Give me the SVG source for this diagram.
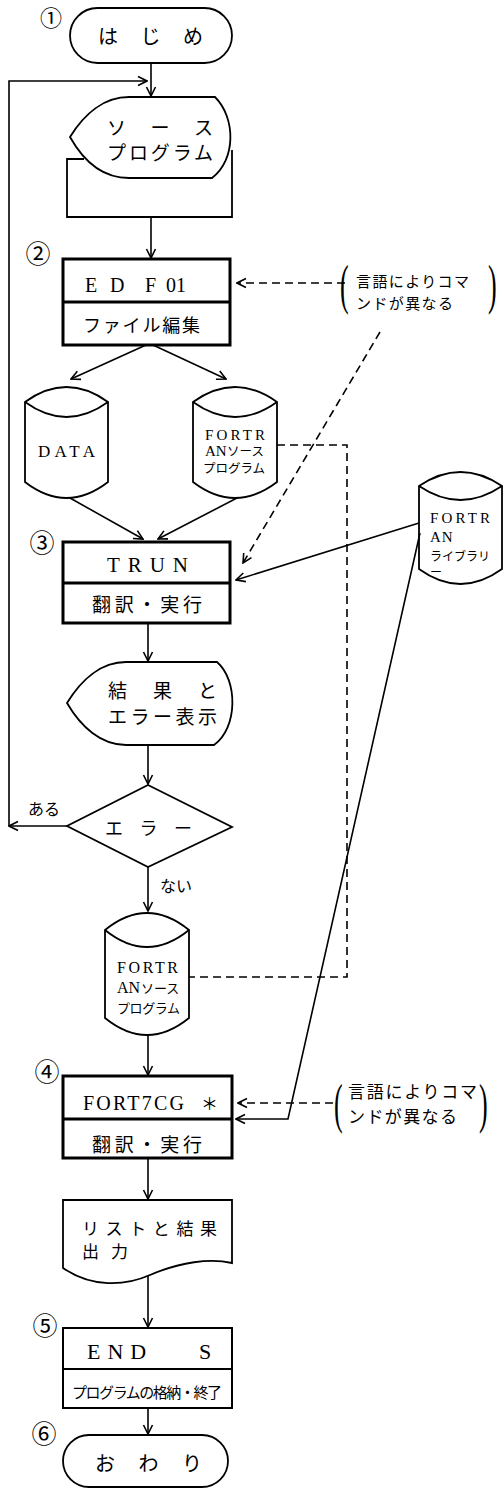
<svg xmlns="http://www.w3.org/2000/svg" width="504" height="1489" viewBox="0 0 504 1489">
<defs>
<style>
.ln{fill:none;stroke:#000;stroke-width:1.6}
.dash{fill:none;stroke:#000;stroke-width:1.6;stroke-dasharray:8 5}
.box{fill:#fff;stroke:#000;stroke-width:3}
.tbox{fill:#fff;stroke:#000;stroke-width:2}
.shp{fill:#fff;stroke:#000;stroke-width:1.8}
.div{stroke:#000;stroke-width:3}
.jp{font-family:'Noto Sans CJK JP',sans-serif;fill:#000}
.en{font-family:'Liberation Serif','Noto Sans CJK JP',serif;fill:#000}
.num{font-family:'Noto Sans CJK JP',sans-serif;fill:#000;text-anchor:middle;font-size:25px}
.par{font-family:'Liberation Serif',serif;fill:#000;font-size:26px}
</style>
<marker id="ah" viewBox="0 0 12 12" refX="11" refY="6" markerWidth="12" markerHeight="12" markerUnits="userSpaceOnUse" orient="auto">
<path d="M2,1.5 L11,6 L2,10.5" fill="none" stroke="#000" stroke-width="1.6"/>
</marker>
</defs>
<rect width="504" height="1489" fill="#fff"/>

<g id="start">
<rect class="shp" x="70" y="8" width="162" height="55" rx="27.5"/>
<text class="jp" x="98" y="44" font-size="20" textLength="105" lengthAdjust="spacing">は じ め</text>
<text class="num" x="51" y="26" style="font-size:22px">①</text>
</g>

<g id="source">
<path class="ln" style="stroke-width:1.8" d="M84,159 H67 V217 H232 V150"/>
<path class="shp" d="M70,137 C84,114 104,97 129,97 H215 C236,118 236,160 212,178 H129 C104,178 84,162 70,137 Z"/>
<text class="jp" x="107" y="135" font-size="19" textLength="106" lengthAdjust="spacing">ソ ー ス</text>
<text class="jp" x="107" y="160" font-size="19" textLength="106" lengthAdjust="spacing">プログラム</text>
</g>

<g id="edf01">
<rect class="box" x="63" y="259" width="167" height="86"/>
<line class="div" x1="63" y1="302" x2="230" y2="302"/>
<text class="en" y="292" font-size="20"><tspan x="85">E</tspan><tspan x="110">D</tspan> <tspan x="145">F</tspan><tspan x="166">01</tspan></text>
<text class="jp" x="83" y="332" font-size="18" textLength="117" lengthAdjust="spacing">ファイル編集</text>
<text class="num" x="38" y="263">②</text>
</g>

<g id="data">
<path class="shp" d="M25,402 Q66.5,372 108,402 V482 Q66.5,514 25,482 Z"/>
<path class="ln" style="stroke-width:1.8" d="M25,402 Q66.5,432 108,402"/>
<text class="en" x="38" y="457" font-size="17" textLength="57" lengthAdjust="spacing">DATA</text>
</g>

<g id="fortran-src1">
<path class="shp" d="M193,402 Q235,372 277,402 V482 Q235,514 193,482 Z"/>
<path class="ln" style="stroke-width:1.8" d="M193,402 Q235,432 277,402"/>
<text class="en" x="205" y="440" font-size="15" textLength="60" lengthAdjust="spacing">FORTR</text>
<text class="en" y="456" font-size="15"><tspan x="205">AN</tspan><tspan x="227" font-family="'Noto Sans CJK JP',sans-serif" font-size="12.5">ソース</tspan></text>
<text class="jp" x="203" y="473" font-size="12.5" textLength="62" lengthAdjust="spacing">プログラム</text>
</g>

<g id="library">
<path class="shp" d="M419,486 Q460.5,458 502,486 V569 Q460.5,599 419,569 Z"/>
<path class="ln" style="stroke-width:1.8" d="M419,486 Q460.5,514 502,486"/>
<text class="en" x="430" y="523" font-size="15" textLength="60" lengthAdjust="spacing">FORTR</text>
<text class="en" x="430" y="542" font-size="15" letter-spacing="1">AN</text>
<text class="jp" x="430" y="561" font-size="12" textLength="60" lengthAdjust="spacing">ライブラリ</text>
<text class="jp" x="430" y="577" font-size="12">ー</text>
</g>

<g id="trun">
<rect class="box" x="63" y="542" width="167" height="81"/>
<line class="div" x1="63" y1="583" x2="230" y2="583"/>
<text class="en" x="107" y="572" font-size="21" textLength="81" lengthAdjust="spacing">TRUN</text>
<text class="jp" x="92" y="612" font-size="19" textLength="110" lengthAdjust="spacing">翻訳・実行</text>
<text class="num" x="42" y="552">③</text>
</g>

<g id="result-display">
<path class="shp" d="M67,703 C81,680 101,662 126,662 H217 C238,680 238,728 214,745 H126 C101,745 81,727 67,703 Z"/>
<text class="jp" x="108" y="698" font-size="19" textLength="109" lengthAdjust="spacing">結 果 と</text>
<text class="jp" x="108" y="724" font-size="19" textLength="109" lengthAdjust="spacing">エラー表示</text>
</g>

<g id="error-decision">
<path class="shp" d="M148,785 L232,827 L148,867 L67,826 Z"/>
<text class="jp" x="105" y="835" font-size="18" textLength="87" lengthAdjust="spacing">エ ラ ー</text>
<text class="jp" x="28" y="815" font-size="16" textLength="32" lengthAdjust="spacing">ある</text>
<text class="jp" x="160" y="892" font-size="16" textLength="32" lengthAdjust="spacing">ない</text>
</g>

<g id="fortran-src2">
<path class="shp" d="M105,930 Q147,896 189,930 V1018 Q147,1052 105,1018 Z"/>
<path class="ln" style="stroke-width:1.8" d="M105,930 Q147,964 189,930"/>
<text class="en" x="117" y="973" font-size="16" textLength="61" lengthAdjust="spacing">FORTR</text>
<text class="en" y="993" font-size="16"><tspan x="117">AN</tspan><tspan x="141" font-family="'Noto Sans CJK JP',sans-serif" font-size="13">ソース</tspan></text>
<text class="jp" x="117" y="1013" font-size="13" textLength="63" lengthAdjust="spacing">プログラム</text>
</g>

<g id="fort7cg">
<rect class="box" x="63" y="1076" width="169" height="82"/>
<line class="div" x1="63" y1="1119" x2="232" y2="1119"/>
<text class="en" y="1110" font-size="20"><tspan x="83" letter-spacing="2.2">FORT7CG</tspan> <tspan x="201" font-family="'Noto Sans CJK JP',sans-serif" font-size="17">＊</tspan></text>
<text class="jp" x="92" y="1152" font-size="19" textLength="110" lengthAdjust="spacing">翻訳・実行</text>
<text class="num" x="47" y="1081">④</text>
</g>

<g id="output-doc">
<path class="shp" d="M63,1200 H232 V1263 C210,1258 180,1262 150,1275 C125,1286 92,1288 63,1268 Z"/>
<text class="jp" x="82" y="1235" font-size="17" textLength="135" lengthAdjust="spacing">リストと結果</text>
<text class="jp" x="82" y="1258" font-size="17" textLength="46" lengthAdjust="spacing">出力</text>
</g>

<g id="end-s">
<rect class="tbox" x="63" y="1328" width="169" height="80"/>
<line x1="63" y1="1369" x2="232" y2="1369" stroke="#000" stroke-width="2"/>
<text class="en" y="1359" font-size="22"><tspan x="87" letter-spacing="7">END</tspan> <tspan x="199">S</tspan></text>
<text class="jp" x="72" y="1398" font-size="15" textLength="150" lengthAdjust="spacing">プログラムの格納・終了</text>
<text class="num" x="45" y="1335">⑤</text>
</g>

<g id="finish">
<rect class="shp" x="63" y="1435" width="165" height="52" rx="26"/>
<text class="jp" x="95" y="1471" font-size="20" textLength="107" lengthAdjust="spacing">お わ り</text>
<text class="num" x="44" y="1443">⑥</text>
</g>

<g id="note1">
<text class="par" transform="translate(340,303) scale(1,2.1)">(</text>
<text class="jp" x="356" y="287" font-size="15" textLength="113" lengthAdjust="spacing">言語によりコマ</text>
<text class="jp" x="356" y="309" font-size="15" textLength="97" lengthAdjust="spacing">ンドが異なる</text>
<text class="par" transform="translate(488,303) scale(1,2.1)">)</text>
</g>

<g id="note2">
<text class="par" transform="translate(334,1122) scale(1,2.1)">(</text>
<text class="jp" x="348" y="1098" font-size="17" textLength="129" lengthAdjust="spacing">言語によりコマ</text>
<text class="jp" x="348" y="1123" font-size="17" textLength="109" lengthAdjust="spacing">ンドが異なる</text>
<text class="par" transform="translate(479,1122) scale(1,2.1)">)</text>
</g>

<g id="connectors">
<path class="ln" d="M151,63 V96" marker-end="url(#ah)"/>
<path class="ln" d="M67,826 H9" marker-end="url(#ah)"/>
<path class="ln" d="M9,826 V81 H147" marker-end="url(#ah)"/>
<path class="ln" d="M151,217 V258" marker-end="url(#ah)"/>
<path class="ln" d="M146,345 L71,379" marker-end="url(#ah)"/>
<path class="ln" d="M153,345 L226,379" marker-end="url(#ah)"/>
<path class="ln" d="M70,498 L143,539" marker-end="url(#ah)"/>
<path class="ln" d="M237,498 L158,539" marker-end="url(#ah)"/>
<path class="ln" d="M148,623 V661" marker-end="url(#ah)"/>
<path class="ln" d="M148,745 V784" marker-end="url(#ah)"/>
<path class="ln" d="M148,867 V911" marker-end="url(#ah)"/>
<path class="ln" d="M148,1035 V1075" marker-end="url(#ah)"/>
<path class="ln" d="M148,1158 V1199" marker-end="url(#ah)"/>
<path class="ln" d="M148,1276 V1327" marker-end="url(#ah)"/>
<path class="ln" d="M148,1408 V1434" marker-end="url(#ah)"/>
<path class="dash" d="M345,283 H237" marker-end="url(#ah)"/>
<path class="dash" d="M380,332 L243,563" marker-end="url(#ah)"/>
<path class="dash" d="M277,445 H347 V977 H189"/>
<path class="ln" d="M419,523 L236,580" marker-end="url(#ah)"/>
<path class="ln" d="M420,533 L288,1119 H236" marker-end="url(#ah)"/>
<path class="dash" d="M333,1103 H238" marker-end="url(#ah)"/>
</g>
</svg>
